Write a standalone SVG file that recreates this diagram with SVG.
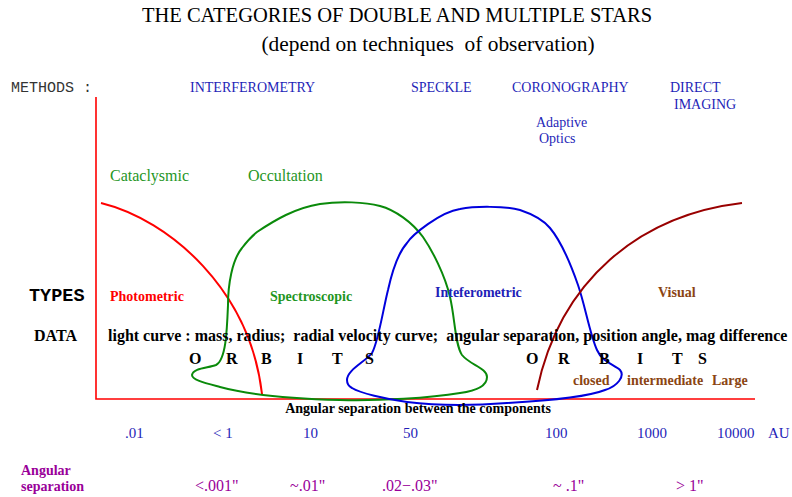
<svg xmlns="http://www.w3.org/2000/svg" width="792" height="497" viewBox="0 0 792 497">
<style>
text{font-family:"Liberation Serif","Times New Roman",serif;}
.mono{font-family:"Liberation Mono","Courier New",monospace;}
.b{font-weight:bold;}
.blue{fill:#1f1fb8;}
.green{fill:#1f961f;}
.red{fill:#ff0000;}
.brown{fill:#8b4513;}
.purple{fill:#990099;}
.blk{fill:#000;}
.curve{fill:none;stroke-width:2;}
</style>
<rect width="792" height="497" fill="#fff"/>
<g id="title">
<text x="397" y="22" font-size="20.5" text-anchor="middle">THE CATEGORIES OF DOUBLE AND MULTIPLE STARS</text>
<text x="428" y="51" font-size="21.4" text-anchor="middle" xml:space="preserve">(depend on techniques  of observation)</text>
</g>
<g id="methods">
<text class="mono" x="11" y="92" font-size="15" fill="#333">METHODS :</text>
<text class="blue" x="190" y="92" font-size="14">INTERFEROMETRY</text>
<text class="blue" x="411" y="92" font-size="14">SPECKLE</text>
<text class="blue" x="512" y="92" font-size="14">CORONOGRAPHY</text>
<text class="blue" x="670" y="92" font-size="14">DIRECT</text>
<text class="blue" x="674" y="109" font-size="14">IMAGING</text>
<text class="blue" x="536" y="127" font-size="14">Adaptive</text>
<text class="blue" x="539" y="143" font-size="14">Optics</text>
</g>
<g id="axes">
<path d="M96,97 L96,399 L755,399" fill="none" stroke="#ff0000" stroke-width="1.6"/>
</g>
<g id="connectors">
<path id="photometric-curve" class="curve" stroke="#ff0000" d="M101,203 C170,220 250,290 262,394"/>
<path id="spectroscopic-curve" class="curve" stroke="#0a8a0a" d="M192,375 C193,368 208,368 216,365 C226,360 227,330 228,305 C228,285 232,260 242,248 C248,240 252,236 257,232 C275,220 295,208 320,204 C340,201 365,202 380,206 C395,210 412,222 423,237 C432,250 445,275 450,297 C455,318 455,345 462,355 C470,365 487,368 487,377 C487,386 475,391 460,393 C430,398 380,401 340,400 C300,399 250,395 220,387 C205,383 192,380 192,375 Z"/>
<path id="interferometric-curve" class="curve" stroke="#0000dd" d="M347,380 C347,370 365,362 372,353 C378,343 383,310 388,290 C392,272 398,253 407,243 C412,235 440,212 460,209 C475,206 505,206 520,210 C535,215 545,222 550,228 C560,240 570,262 578,285 C585,305 590,335 597,350 C602,362 615,365 620,370 C625,376 618,386 605,390 C590,396 560,400 507,403 C480,405 440,406 407,402 C385,399 360,393 352,388 C348,386 347,383 347,380 Z"/>
<path id="visual-curve" class="curve" stroke="#990000" d="M537,390 C560,280 640,215 742,203"/>
</g>
<g id="top-labels">
<text class="green" x="110" y="181" font-size="16">Cataclysmic</text>
<text class="green" x="248" y="181" font-size="16">Occultation</text>
</g>
<g id="types">
<text class="mono b blk" x="29" y="301" font-size="18.5">TYPES</text>
<text class="b red" x="110" y="301" font-size="14">Photometric</text>
<text class="b green" x="270" y="301" font-size="14">Spectroscopic</text>
<text class="b blue" x="435" y="297" font-size="14">Inteferometric</text>
<text class="b brown" x="658" y="297" font-size="14">Visual</text>
</g>
<g id="data">
<text class="b blk" x="34" y="341" font-size="16">DATA</text>
<text class="b blk" x="108" y="341" font-size="16" xml:space="preserve">light curve : mass, radius;  radial velocity curve;  angular separation, position angle, mag difference</text>
</g>
<g id="orbits" class="b blk" font-size="16">
<text class="b" x="189" y="364">O</text>
<text class="b" x="226" y="364">R</text>
<text class="b" x="261" y="364">B</text>
<text class="b" x="297" y="364">I</text>
<text class="b" x="332" y="364">T</text>
<text class="b" x="365" y="364">S</text>
<text class="b" x="526" y="364">O</text>
<text class="b" x="558" y="364">R</text>
<text class="b" x="599" y="364">B</text>
<text class="b" x="637" y="364">I</text>
<text class="b" x="672" y="364">T</text>
<text class="b" x="698" y="364">S</text>
</g>
<g id="orbit-kinds">
<text class="b brown" x="573" y="385" font-size="14">closed</text>
<text class="b brown" x="627" y="385" font-size="14">intermediate</text>
<text class="b brown" x="712" y="385" font-size="14">Large</text>
</g>
<g id="axis-label">
<text class="b blk" x="418" y="413" font-size="14" text-anchor="middle">Angular separation between the components</text>
</g>
<g id="au-scale">
<text class="blue" x="125" y="438" font-size="15">.01</text>
<text class="blue" x="213" y="438" font-size="15">&lt; 1</text>
<text class="blue" x="303" y="438" font-size="15">10</text>
<text class="blue" x="403" y="438" font-size="15">50</text>
<text class="blue" x="545" y="438" font-size="15">100</text>
<text class="blue" x="637" y="438" font-size="15">1000</text>
<text class="blue" x="717" y="438" font-size="15">10000</text>
<text class="blue" x="768" y="438" font-size="15">AU</text>
</g>
<g id="angular-scale">
<text class="b purple" x="21" y="475" font-size="14">Angular</text>
<text class="b purple" x="21" y="491" font-size="14">separation</text>
<text class="purple" x="195" y="491" font-size="16">&lt;.001"</text>
<text class="purple" x="290" y="491" font-size="16">~.01"</text>
<text class="purple" x="382" y="491" font-size="16">.02−.03"</text>
<text class="purple" x="553" y="491" font-size="16">~ .1"</text>
<text class="purple" x="676" y="491" font-size="16">&gt; 1"</text>
</g>
</svg>
